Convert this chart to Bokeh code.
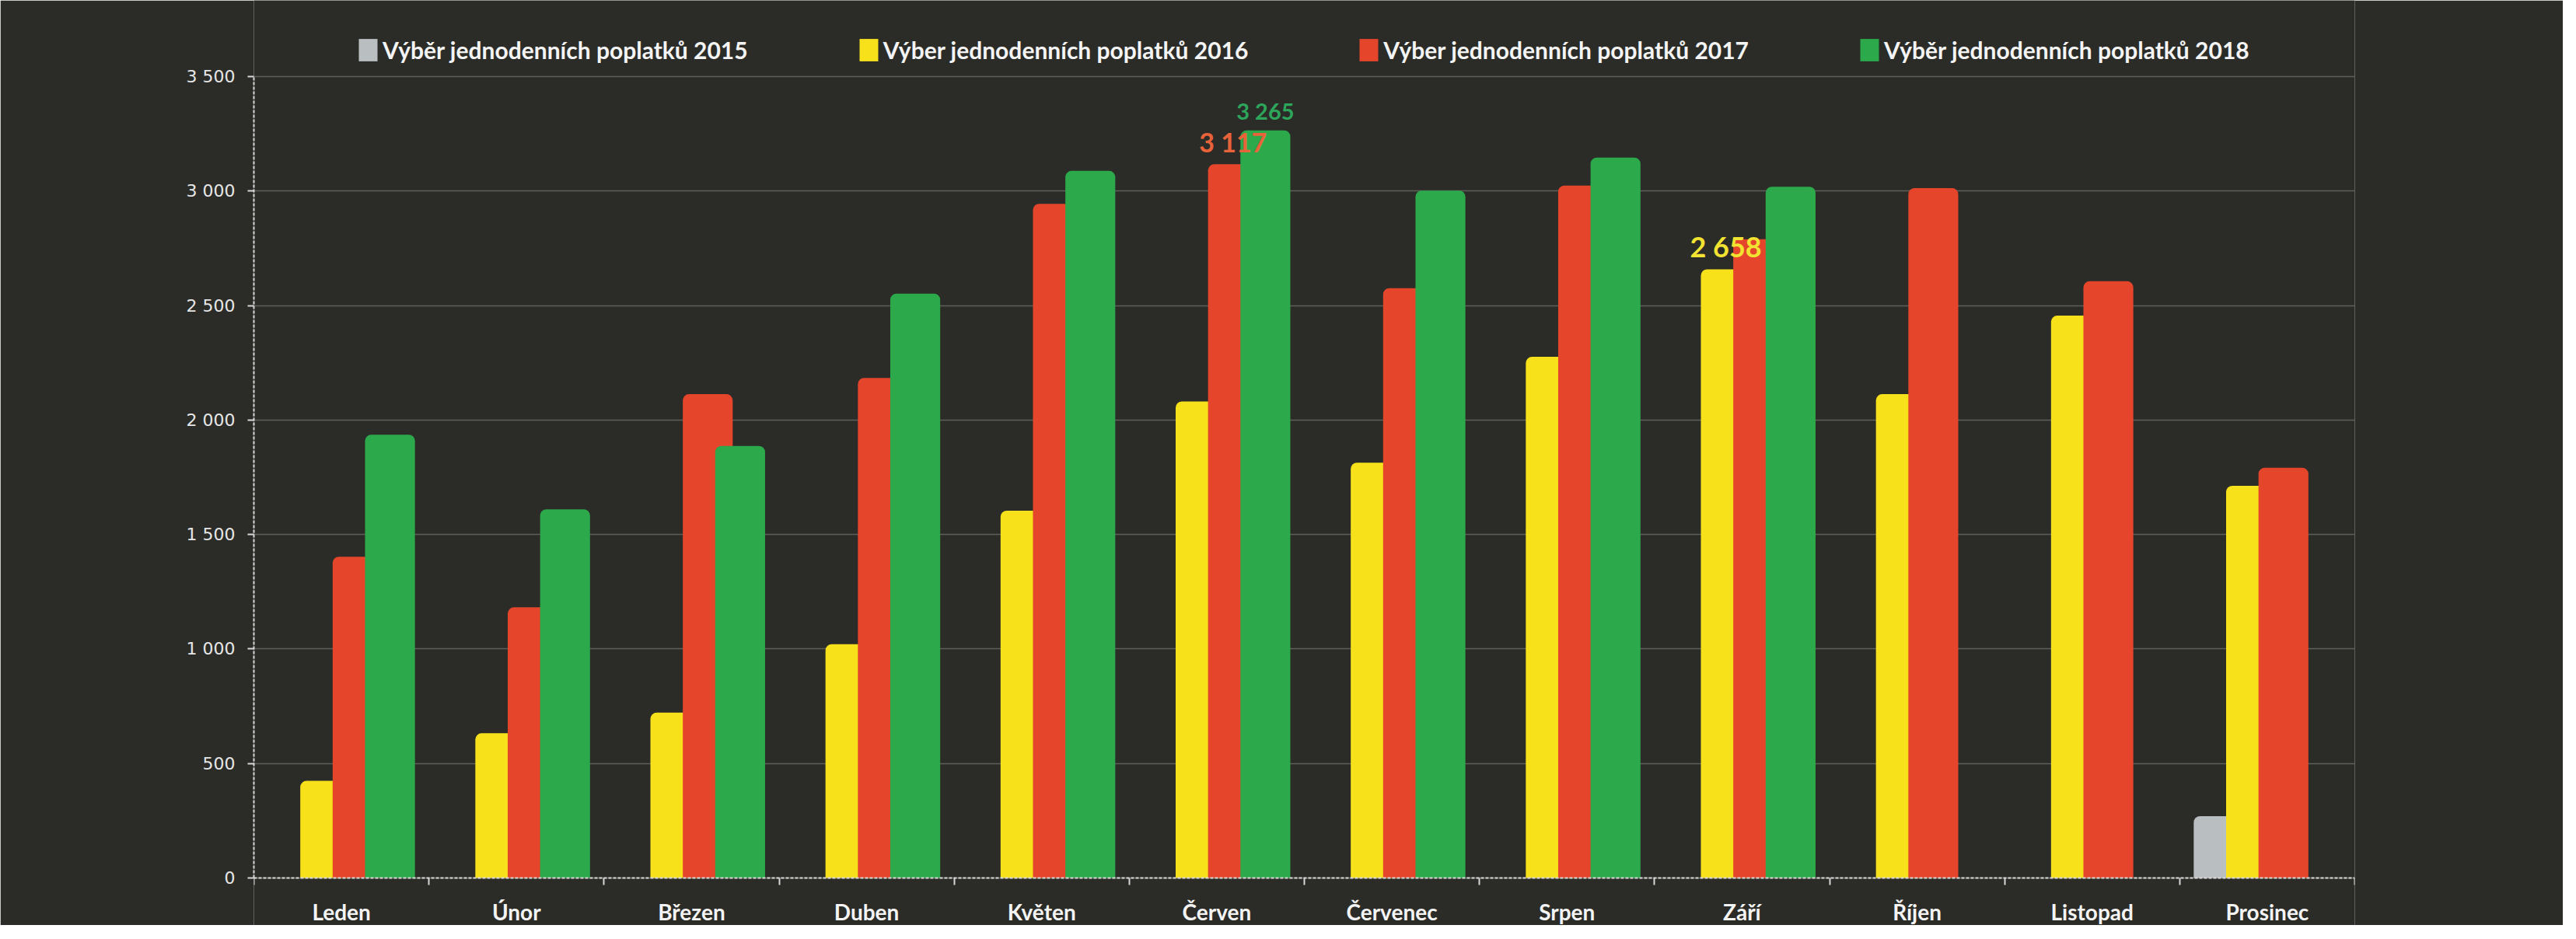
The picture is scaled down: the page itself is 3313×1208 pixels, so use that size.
from bokeh.plotting import figure
from bokeh.models import (Range1d, LinearAxis, FixedTicker, Legend, LegendItem,
                          ColumnDataSource, Grid)
from bokeh.core.properties import value
from bokeh.embed import file_html
from bokeh.resources import INLINE

NaN = float("nan")

# ---------------- data ----------------
months = ["Leden", "Únor", "Březen", "Duben", "Květen", "Červen",
          "Červenec", "Srpen", "Září", "Říjen", "Listopad", "Prosinec"]
series_names = ["Výběr jednodenních poplatků 2015",
                "Výber jednodenních poplatků 2016",
                "Výber jednodenních poplatků 2017",
                "Výběr jednodenních poplatků 2018"]
v2015 = [NaN, NaN, NaN, NaN, NaN, NaN, NaN, NaN, NaN, NaN, NaN, 270]
v2016 = [424, 632, 722, 1021, 1604, 2081, 1814, 2276, 2658, 2113, 2456, 1713]
v2017 = [1403, 1182, 2113, 2184, 2944, 3117, 2576, 3024, 2790, 3013, 2606, 1792]
v2018 = [1936, 1610, 1887, 2552, 3088, 3265, 3002, 3146, 3019, NaN, NaN, NaN]
y_ticks = [0, 500, 1000, 1500, 2000, 2500, 3000, 3500]
# data labels shown in the chart: (month index, series index)
labelled = [(5, 2), (5, 3), (8, 1)]

# ---------------- style ----------------
BG = "#2b2c28"
colors = ["#b9bec1", "#f6e11b", "#e4452b", "#2ba94b"]
label_colors = ["#b9bec1", "#f2e232", "#e8623a", "#2da55a"]
label_sizes = {(5, 2): "34px", (5, 3): "29px", (8, 1): "36px"}
offsets = [-0.2775, -0.0925, 0.0925, 0.2775]
BAR_W = 0.285
W, H = 3296, 1190
MB_L, MB_R = 326, 268
TOP_PAD = 98          # pixels between canvas top and the 3 500 line
BOT_PAD = 61          # pixels between the 0 line and canvas bottom
Y_MAX = y_ticks[-1]

def fmt(v):
    return f"{int(v):,}".replace(",", " ")

ppu = (H - TOP_PAD - BOT_PAD) / Y_MAX          # pixels per unit
y_start = -BOT_PAD / ppu
y_end = Y_MAX + TOP_PAD / ppu

p = figure(width=W, height=H,
           x_range=Range1d(0, 12), y_range=Range1d(y_start, y_end),
           output_backend="svg", toolbar_location=None,
           x_axis_location=None, y_axis_location=None,
           min_border_left=MB_L, min_border_right=MB_R,
           min_border_top=0, min_border_bottom=0,
           background_fill_color=BG, border_fill_color=BG,
           outline_line_color=None)

# remove default grids, add horizontal grid only
p.center = [r for r in p.center if not isinstance(r, Grid)]
p.add_layout(Grid(dimension=1, ticker=FixedTicker(ticks=y_ticks),
                  grid_line_color="#8a8a84", grid_line_alpha=0.55,
                  grid_line_width=1.5))

# bars
all_series = [v2015, v2016, v2017, v2018]
renderers = []
for k, vals in enumerate(all_series):
    src = ColumnDataSource(dict(x=[i + 0.5 + offsets[k] for i in range(len(months))],
                                top=vals))
    r = p.vbar(x="x", top="top", bottom=0, width=BAR_W, source=src,
               fill_color=colors[k], line_color=None,
               border_radius=(8, 8, 0, 0))
    renderers.append(r)

# data labels
for (mi, si) in labelled:
    val = all_series[si][mi]
    p.text(x=[mi + 0.5 + offsets[si]], y=[val], text=[fmt(val)],
           text_align="center", text_baseline="bottom", y_offset=-8,
           text_font=value("Lato"), text_font_style="bold",
           text_font_size=label_sizes[(mi, si)], text_color=label_colors[si])

# y axis
yaxis = LinearAxis(ticker=FixedTicker(ticks=y_ticks), bounds=(0, Y_MAX),
                   major_label_overrides={t: fmt(t) for t in y_ticks},
                   axis_line_color="#d8d8d8", axis_line_width=2,
                   axis_line_dash="4 2",
                   major_tick_line_color="#d8d8d8", major_tick_line_width=2,
                   major_tick_out=8, major_tick_in=0,
                   minor_tick_line_color=None,
                   major_label_standoff=16,
                   major_label_text_font="DejaVu Sans",
                   major_label_text_font_size="22px",
                   major_label_text_color="#e6e6e6")
p.add_layout(yaxis, "left")

# x axis at y = 0: month names at category centres, small ticks at boundaries
centres = [i + 0.5 for i in range(len(months))]
bounds_ticks = list(range(len(months) + 1))
xaxis = LinearAxis(ticker=FixedTicker(ticks=centres, minor_ticks=bounds_ticks),
                   fixed_location=0,
                   major_label_overrides={c: m for c, m in zip(centres, months)},
                   axis_line_color="#d8d8d8", axis_line_width=2,
                   axis_line_dash="4 2",
                   major_tick_line_color=None, major_tick_out=0, major_tick_in=0,
                   minor_tick_line_color="#d8d8d8", minor_tick_line_width=2,
                   minor_tick_out=9, minor_tick_in=0,
                   major_label_standoff=17,
                   major_label_text_font="Lato",
                   major_label_text_font_style="bold",
                   major_label_text_font_size="28px",
                   major_label_text_color="#f4f4f4")
p.add_layout(xaxis, "below")

# legend inside the frame, above the 3 500 line
legend = Legend(items=[LegendItem(label=n, renderers=[r]) for n, r in zip(series_names, renderers)],
                orientation="horizontal", location=(132, H - TOP_PAD + 16),
                spacing=140, glyph_width=30, glyph_height=36, label_standoff=4,
                label_height=36,
                label_text_font="Lato", label_text_font_style="bold",
                label_text_font_size="30px", label_text_color="#f4f4f4",
                background_fill_alpha=0, border_line_alpha=0,
                padding=0, margin=0)
p.add_layout(legend, "center")

open("out.html", "w").write(file_html(p, INLINE))
